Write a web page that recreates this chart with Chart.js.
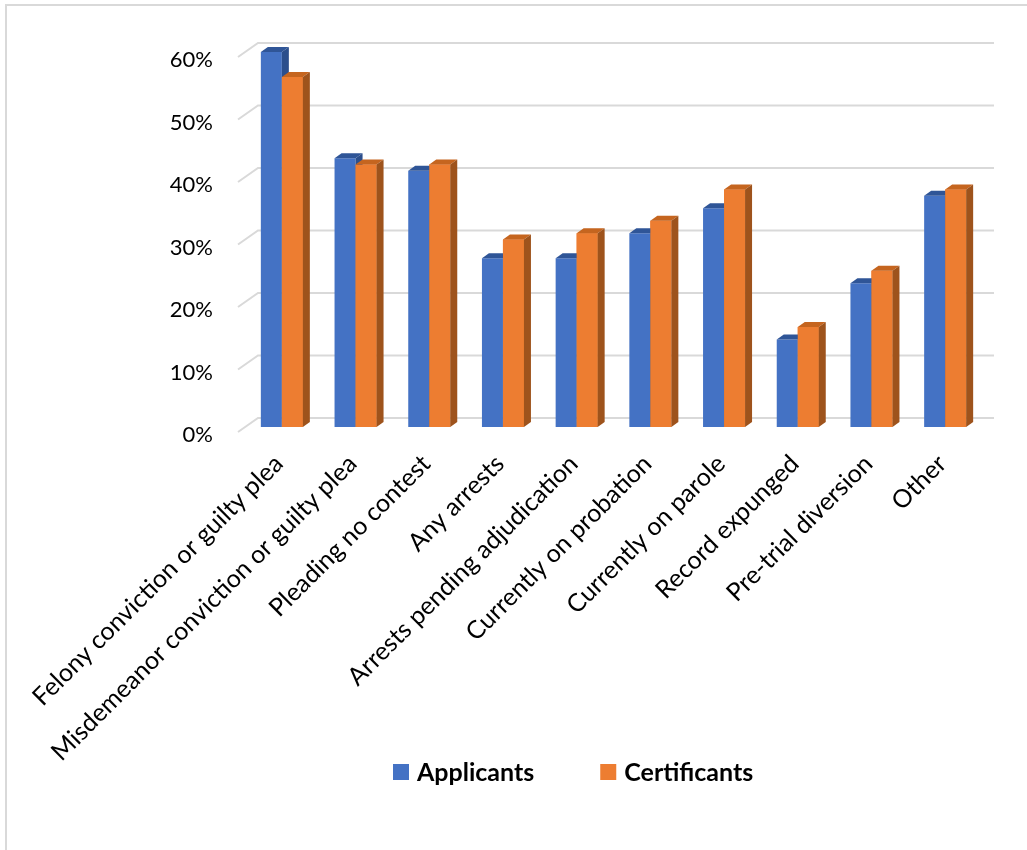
<!DOCTYPE html>
<html>
<head>
<meta charset="utf-8">
<script src="https://cdn.jsdelivr.net/npm/chart.js@4"></script>
<style>
  body { margin: 0; background: #fff; }
  #wrap { width: 1027px; height: 850px; position: relative; }
</style>
</head>
<body>
<div id="wrap"><canvas id="myChart" width="1027" height="850"></canvas></div>
<script>
const categories = [
  'Felony conviction or guilty plea',
  'Misdemeanor conviction or guilty plea',
  'Pleading no contest',
  'Any arrests',
  'Arrests pending adjudication',
  'Currently on probation',
  'Currently on parole',
  'Record expunged',
  'Pre-trial diversion',
  'Other'
];
const applicants = [60, 43, 41, 27, 27, 31, 35, 14, 23, 37];
const certificants = [56, 42, 42, 30, 31, 33, 38, 16, 25, 38];
const yTicks = [0, 10, 20, 30, 40, 50, 60];

// depth of the bar faces
const BAR_DX = 7, BAR_DY = 5;
const faceColors = [
  { top: '#2f5597', side: '#2c4f8c' },
  { top: '#c5651f', side: '#9e531c' }
];

const frame = {
  id: 'frame',
  beforeDraw(chart) {
    const ctx = chart.ctx;
    ctx.save();
    ctx.strokeStyle = '#d9d9d9';
    ctx.lineWidth = 2;
    ctx.beginPath();
    ctx.moveTo(6, chart.height);
    ctx.lineTo(6, 5);
    ctx.lineTo(chart.width, 5);
    ctx.stroke();

    // back wall grid lines with a short slant on the left
    const y = chart.scales.y;
    const area = chart.chartArea;
    yTicks.forEach(v => {
      const py = y.getPixelForValue(v);
      ctx.beginPath();
      ctx.moveTo(area.left - 7, py + 5);
      ctx.lineTo(area.left + 13, py - 9);
      ctx.lineTo(area.right + 12, py - 9);
      ctx.stroke();
    });
    ctx.restore();
  }
};

function drawFaces(ctx, bar, c) {
  const p = bar.getProps(['x', 'y', 'base', 'width'], true);
  const l = p.x - p.width / 2, r = p.x + p.width / 2;
  ctx.fillStyle = c.top;
  ctx.beginPath();
  ctx.moveTo(l, p.y);
  ctx.lineTo(l + BAR_DX, p.y - BAR_DY);
  ctx.lineTo(r + BAR_DX, p.y - BAR_DY);
  ctx.lineTo(r, p.y);
  ctx.closePath();
  ctx.fill();
  ctx.fillStyle = c.side;
  ctx.beginPath();
  ctx.moveTo(r, p.y);
  ctx.lineTo(r + BAR_DX, p.y - BAR_DY);
  ctx.lineTo(r + BAR_DX, p.base - BAR_DY);
  ctx.lineTo(r, p.base);
  ctx.closePath();
  ctx.fill();
}

// blue faces first, then the orange bar on top of them, then its faces
const bars3d = {
  id: 'bars3d',
  afterDatasetsDraw(chart) {
    const ctx = chart.ctx;
    const blue = chart.getDatasetMeta(0).data;
    const orange = chart.getDatasetMeta(1).data;
    ctx.save();
    blue.forEach((bar, i) => {
      drawFaces(ctx, bar, faceColors[0]);
      orange[i].draw(ctx);
      drawFaces(ctx, orange[i], faceColors[1]);
    });
    ctx.restore();
  }
};

// legend row below the axis labels
const legendRow = {
  id: 'legendRow',
  afterDraw(chart) {
    const ctx = chart.ctx;
    const cy = 772;
    let x = 393;
    ctx.save();
    ctx.font = 'bold 25px Lato';
    ctx.textBaseline = 'middle';
    chart.data.datasets.forEach(ds => {
      ctx.fillStyle = ds.backgroundColor;
      ctx.fillRect(x, cy - 8, 16, 16);
      ctx.fillStyle = '#000';
      ctx.fillText(ds.label, x + 24, cy + 1);
      x += 24 + ctx.measureText(ds.label).width + 66;
    });
    ctx.restore();
  }
};

const ctx = document.getElementById('myChart').getContext('2d');
const myChart = new Chart(ctx, {
  type: 'bar',
  data: {
    labels: categories,
    datasets: [{
      label: 'Applicants',
      data: applicants,
      backgroundColor: '#4472c4'
    }, {
      label: 'Certificants',
      data: certificants,
      backgroundColor: '#ed7d31'
    }]
  },
  options: {
    responsive: false,
    animation: false,
    layout: { padding: { left: 0, right: 45, top: 52, bottom: 60 } },
    datasets: {
      bar: { categoryPercentage: 0.57, barPercentage: 1.0 }
    },
    scales: {
      x: {
        grid: { display: false, drawTicks: false },
        border: { display: false },
        ticks: {
          minRotation: 45,
          maxRotation: 45,
          autoSkip: false,
          padding: 22,
          labelOffset: -3,
          color: '#000',
          font: { family: 'Lato', size: 25 }
        },
        afterFit(scale) { scale.height = 363; }
      },
      y: {
        min: 0,
        max: 60,
        grid: { display: false, drawTicks: false },
        border: { display: false },
        ticks: {
          stepSize: 10,
          padding: 32,
          labelOffset: 8,
          color: '#000',
          font: { family: 'Lato', size: 22 },
          callback: v => v + '%'
        },
        afterFit(scale) { scale.width = 245; }
      }
    },
    plugins: {
      tooltip: { enabled: false },
      legend: { display: false }
    }
  },
  plugins: [frame, bars3d, legendRow]
});
</script>
</body>
</html>
